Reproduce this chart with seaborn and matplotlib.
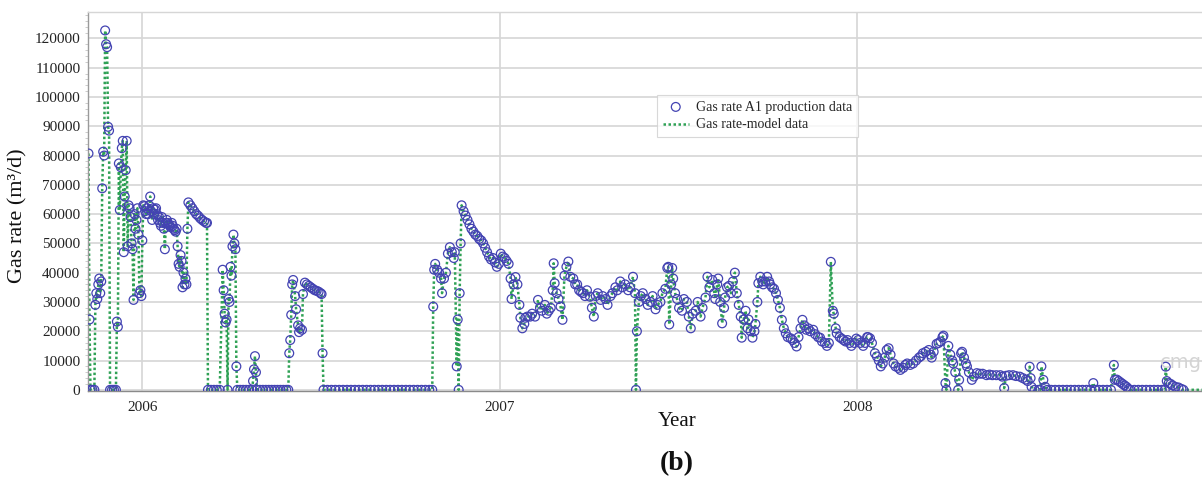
import numpy as np
import pandas as pd
import matplotlib
matplotlib.use("Agg")
import matplotlib.pyplot as plt
from matplotlib.ticker import MultipleLocator
import seaborn as sns

# ---------------- data (days since 2006-01-01, gas rate in thousand m3/d) -------------
days_a = [-55, -54, -53, -51, -49,
          -48, -47, -46, -45, -44, -43, -42, -41, -40, -39, -38, -37, -36, -35, -34,
          -33, -31, -29, -27,
          -26, -25, -24, -23, -22, -21, -20, -19, -18, -17, -16, -15, -14, -13, -12, -11,
          -10, -9, -8, -7, -6, -5, -4, -3, -2, -1,
          0, 1, 2, 3, 4, 5, 6, 7, 8, 9, 10, 11, 12, 13, 14, 15, 16, 17, 18, 19,
          20, 21, 22, 23, 24, 25, 26, 27, 28, 29, 30, 31, 32, 33, 34, 35, 36, 37, 38, 39,
          40, 41, 42, 43, 44, 45, 46, 47,
          49, 51, 53, 55, 57, 59, 61, 63, 65, 66]
rate_a = [80.7, 24, 0, 0, 0,
          29, 33, 31, 36, 38, 33, 37, 68.8, 81.3, 80, 122.7, 118, 117, 89.8, 88.5,
          0, 0, 0, 0,
          23.3, 21.5, 77.3, 61.4, 76, 82.5, 85, 47, 66, 75, 85, 49, 63, 62, 59, 50,
          48, 30.7, 60, 55, 58, 62, 53, 33, 34, 32,
          51, 63, 62.7, 61, 60, 62, 60, 63, 66, 61, 58, 62, 60, 61.5, 62, 60, 58, 59, 57, 56,
          59, 57, 55, 48, 57, 58, 57, 56.5, 56, 55.5, 57, 56, 55, 54.5, 54, 55, 49, 43, 42, 46,
          44, 35, 40, 36, 38, 36, 55, 64,
          63, 62, 61, 60, 59.4, 58.6, 58, 57.5, 57, 57]

days_b = [67, 70, 73, 76, 79,
          82, 83, 84, 85, 86, 87, 88, 89, 90, 91, 92, 93, 94, 95, 96, 97,
          100, 103, 106, 109, 112,
          113, 114, 115, 116, 117,
          120, 123, 126, 129, 132, 135, 138, 141, 144, 147,
          149,
          150, 151, 152, 153, 154,
          156, 157, 159, 160, 161, 163, 164, 166,
          168, 170, 172, 174, 176, 178, 180, 182,
          183, 184, 185,
          189, 193, 197, 201, 205, 209, 213, 217, 221, 225, 229, 233, 237, 241,
          245, 249, 253, 257, 261, 265, 269, 273, 277, 281, 285, 289, 293,
          296]
rate_b = [0, 0, 0, 0, 0,
          41, 34, 26, 23, 24, 0, 31, 30, 42, 39, 49, 53, 50, 48, 8, 0,
          0, 0, 0, 0, 0,
          3, 7, 11.5, 6, 0,
          0, 0, 0, 0, 0, 0, 0, 0, 0, 0,
          0,
          12.5, 17, 25.6, 36, 37.5,
          32, 27.5, 22, 19.7, 21, 20.5, 32.7, 36.6,
          36, 35.5, 35, 34.5, 34, 33.8, 33.5, 33,
          32.7, 12.5, 0,
          0, 0, 0, 0, 0, 0, 0, 0, 0, 0, 0, 0, 0, 0,
          0, 0, 0, 0, 0, 0, 0, 0, 0, 0, 0, 0, 0,
          0]

days_c = [297, 298, 299, 301, 303, 305, 306, 308, 310, 312,
          314, 316, 318, 319, 321, 322, 323, 324, 325, 326,
          328, 330, 332, 334, 336, 338, 340, 342, 344, 346,
          348, 350, 352, 354, 356, 358, 360, 362, 364, 366,
          368, 370, 372, 374, 376,
          377, 379, 381, 383, 385, 386, 388, 390, 391, 393,
          396, 398, 401, 404, 406, 408, 411, 413, 415, 417,
          419, 420, 421, 423, 425, 427, 429, 431, 433, 435,
          437, 440, 442, 444, 446, 448, 450, 452, 454, 457,
          459, 461, 463, 465, 468, 470, 473, 475, 478, 480,
          483, 485, 488, 490, 493, 496, 498, 501, 503]
rate_c = [28.4, 41, 43, 41, 40, 38, 33, 38, 40, 46.5,
          48.7, 47, 45, 47, 8, 24, 0, 33, 50, 63,
          61, 59.5, 58, 56.5, 55, 54, 53, 52.5, 51.5, 51,
          50, 48.5, 47, 45.5, 44.5, 45, 43.5, 42, 43, 46.5,
          45.5, 45, 44, 43, 38,
          31, 36, 38.5, 36, 29, 24.6, 21, 22.5, 24.6, 25,
          25, 26, 25, 30.7, 28, 27, 29, 26, 27, 28,
          34, 43.2, 36.4, 33, 31, 28.4, 23.9, 39, 42, 43.8,
          38.6, 38, 36, 36, 34, 33.4, 33, 32, 34, 31.8,
          28, 25, 32, 33, 30.7, 32, 31, 29, 32, 33,
          35, 34, 37, 35, 36, 34, 35, 38.6, 33]

days_d = [504, 505, 507, 509, 511, 514, 516, 519, 521, 524,
          526, 529, 531, 534, 536, 537, 538, 540, 541, 542,
          544, 546, 548, 551, 553, 556, 558, 560, 562, 565,
          567, 570, 572, 575, 577, 579, 582, 584, 585, 587,
          588, 590, 592, 594, 595, 597, 599, 601, 603, 605,
          607, 609, 611, 612, 614, 616, 618, 619, 621, 623,
          625, 626, 628, 629, 631, 633, 634, 636, 638, 640,
          641, 643, 645, 647, 649, 651, 653, 655, 657, 659,
          662, 664, 666, 668, 670, 672, 674, 676, 678, 680,
          682, 685, 687, 690, 692, 694, 697, 699, 701, 703,
          705, 706, 708, 709, 712, 714, 716, 718, 720, 722,
          724, 727, 729, 731, 733, 736, 738, 740, 741, 743,
          745, 748, 750, 752, 754, 756, 758, 760, 762, 764,
          767, 769, 772, 774, 777, 779, 781, 784, 787, 790,
          793, 795, 797, 800, 803, 805, 806, 808, 811, 813,
          815, 817, 818]
rate_d = [0, 20, 30, 32, 33, 31, 29, 30, 32, 27.5,
          29, 30, 33, 34.5, 41.6, 42, 22.3, 36, 41.6, 38,
          33, 31, 28, 27, 31, 30, 25, 21, 26, 27,
          30, 25, 28, 31.5, 38.6, 35, 37.5, 33, 31, 36,
          38, 30, 22.7, 28, 31.5, 35, 35.5, 33, 37, 40,
          33, 29, 25, 17.8, 24, 27, 21, 24, 20, 17.8,
          20, 22.5, 30, 36.4, 38.6, 37, 36, 37, 38.6, 37,
          36, 35, 34.5, 33, 30.7, 28, 23.9, 21, 19.3, 18,
          17.6, 17, 16, 14.8, 18, 21, 23.9, 22, 20.5, 21,
          20, 20.5, 19, 18, 17.8, 16.5, 16, 15, 16, 43.7,
          27, 26, 21, 19.3, 18, 17.5, 17, 16.5, 17, 16,
          15, 16, 17.5, 17, 16, 15, 16, 18, 18, 17.6,
          16, 12.5, 11.4, 10, 8, 9, 11, 13.6, 14.2, 12,
          9, 8, 7.5, 6.8, 7.5, 8.5, 9, 8.5, 9, 10,
          11, 11.5, 12.5, 13, 13.6, 12, 11, 13, 15.7, 16,
          16.5, 18, 18.5]

days_e = [820, 821, 823, 825, 827, 828, 830, 833, 834, 836,
          837, 839, 841, 842, 844, 847, 849, 852, 855, 858,
          862, 865, 868, 872, 876, 878, 880, 882, 885, 889,
          892, 896, 899, 902, 904, 906, 907, 908, 911, 915,
          917, 918, 920, 922, 924, 928, 932, 936, 940, 944,
          948, 952, 956, 960, 964, 968, 971, 973, 977, 981,
          985, 989, 992, 993, 995, 997, 999, 1001, 1003, 1005,
          1007, 1009, 1013, 1017, 1021, 1025, 1029, 1033, 1037, 1041,
          1044, 1045, 1046, 1048, 1050, 1052, 1055, 1058, 1061, 1063]
rate_e = [2.3, 0, 15, 12, 10, 9, 6, 0, 3.4, 12.5,
          13, 11, 9, 8, 6, 3.4, 4.5, 5.7, 5.5, 5.5,
          5, 5.2, 5, 5, 5, 4.5, 0.6, 4.8, 5, 5,
          4.7, 4.5, 4, 3.5, 3, 7.9, 4, 1, 0, 0,
          0, 8, 3.4, 1, 0, 0, 0, 0, 0, 0,
          0, 0, 0, 0, 0, 0, 2.3, 0, 0, 0,
          0, 0, 8.5, 3.4, 3.5, 3, 2.5, 2, 1.5, 1,
          0.3, 0, 0, 0, 0, 0, 0, 0, 0, 0,
          0, 7.9, 3, 2.3, 2, 1.5, 1, 0.8, 0.3, 0]

# model continues a little beyond the last production record
tail_days = [1067, 1071, 1075, 1079, 1083]
tail_rate = [0, 0, 0, 0, 0]

year_ticks = ["2006-01-01", "2007-01-01", "2008-01-01"]
year_labels = ["2006", "2007", "2008"]
y_ticks = list(range(0, 130000, 10000))

# ---------------- build frames ----------------
prod_days = days_a + days_b + days_c + days_d + days_e
prod_rate = rate_a + rate_b + rate_c + rate_d + rate_e
assert len(prod_days) == len(prod_rate), (len(prod_days), len(prod_rate))
model_days = prod_days + tail_days
model_rate = prod_rate + tail_rate

origin = pd.Timestamp("2006-01-01")
prod = pd.DataFrame({"date": origin + pd.to_timedelta(prod_days, unit="D"),
                     "rate": np.array(prod_rate) * 1000.0})
model = pd.DataFrame({"date": origin + pd.to_timedelta(model_days, unit="D"),
                      "rate": np.array(model_rate) * 1000.0})

# ---------------- style ----------------
sns.set_style("white")
plt.rcParams["font.family"] = ["Liberation Serif", "DejaVu Serif"]

BLUE = "#4343b2"
GREEN = "#2fa155"

W, H = 1202, 479
fig = plt.figure(figsize=(W / 100, H / 100), dpi=100)
ax = fig.add_axes([88 / W, 1 - 391 / H, 1114 / W, 379 / H])

sns.lineplot(data=model, x="date", y="rate", ax=ax, color=GREEN, linewidth=1.8,
             linestyle=(0, (1, 1)), sort=False, estimator=None,
             label="Gas rate-model data", zorder=2)
sns.scatterplot(data=prod, x="date", y="rate", ax=ax, marker="o", s=40,
                facecolor="none", edgecolor=BLUE, linewidth=0.9,
                label="Gas rate A1 production data", zorder=3)

ax.set_xlim(origin + pd.Timedelta(days=-55.5), origin + pd.Timedelta(days=1082))
ax.set_ylim(-400, 129000)
ax.set_yticks(y_ticks)
ax.set_yticklabels([str(v) for v in y_ticks])
ax.yaxis.set_minor_locator(MultipleLocator(2000))
ax.set_xticks([pd.Timestamp(t) for t in year_ticks])
ax.set_xticklabels(year_labels)
ax.set_xlabel("")
ax.set_ylabel("")

ax.grid(True, which="major", color="#d6d6d6", linewidth=1.2)
ax.set_axisbelow(True)
ax.tick_params(axis="y", which="major", length=3, width=0.8, color="#9a9a9a",
               pad=2.5, labelsize=11, labelcolor="#222222")
ax.tick_params(axis="y", which="minor", length=2, width=0.5, color="#b8b8b8", left=True)
ax.tick_params(axis="x", which="major", length=0, pad=7, labelsize=11, labelcolor="#222222")
for side, col in [("left", "#9a9a9a"), ("bottom", "#8a8a8a"), ("top", "#d6d6d6")]:
    ax.spines[side].set_color(col)
    ax.spines[side].set_linewidth(1.0)
ax.spines["right"].set_visible(False)

handles, labels = ax.get_legend_handles_labels()
order = [labels.index("Gas rate A1 production data"), labels.index("Gas rate-model data")]
leg = ax.legend([handles[i] for i in order], [labels[i] for i in order],
                loc="upper left", bbox_to_anchor=((657 - 88) / 1114, (391 - 95) / 379),
                fontsize=10, frameon=True, fancybox=False, handlelength=1.9,
                borderpad=0.4, labelspacing=0.35, handletextpad=0.5, borderaxespad=0)
leg.get_frame().set_edgecolor("#cfcfcf")
leg.get_frame().set_linewidth(0.8)

fig.text(18 / W, 1 - 216 / H, "Gas rate (m³/d)", rotation=90, ha="center", va="center",
         fontsize=16, color="#111111")
fig.text(676.7 / W, 1 - 421.7 / H, "Year", ha="center", va="center", fontsize=15, color="#111111")
fig.text(677 / W, 1 - 464 / H, "(b)", ha="center", va="center", fontsize=20,
         fontweight="bold", color="#111111")
fig.text(1160 / W, 1 - 363 / H, "cmg", ha="left", va="center", fontsize=14,
         color="#d4d4d4", family=["DejaVu Sans"], zorder=0)

fig.savefig("out.png", dpi=100)
